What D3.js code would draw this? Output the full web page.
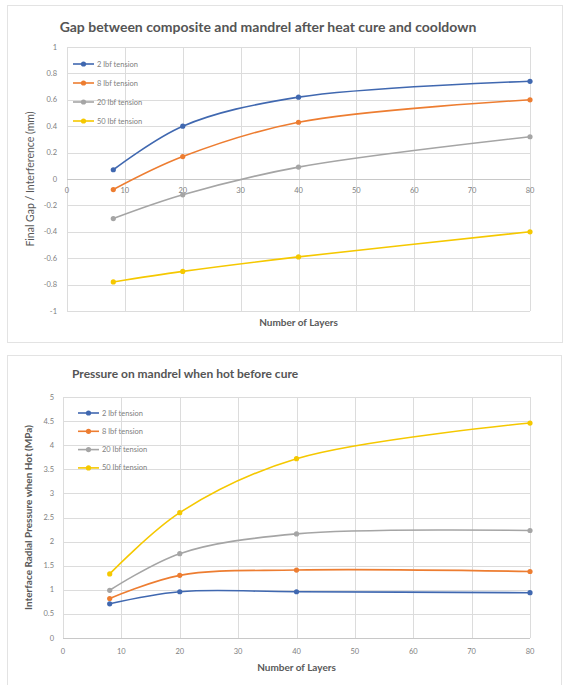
<!DOCTYPE html>
<html>
<head>
<meta charset="utf-8">
<script src="https://cdn.jsdelivr.net/npm/d3@7"></script>
<style>
  body { margin: 0; background: #fff; }
  text { font-family: Lato, "Liberation Sans", sans-serif; }
</style>
</head>
<body>
<div id="chart"></div>
<script>
// shared data
const layers = [8, 20, 40, 80];
const seriesNames = ['2 lbf tension', '8 lbf tension', '20 lbf tension', '50 lbf tension'];
const seriesColors = ['#4068b0', '#ed7d31', '#a5a5a5', '#f5c800'];

// chart 1: final gap / interference (mm)
const gap2 = [0.07, 0.40, 0.62, 0.74];
const gap8 = [-0.08, 0.17, 0.43, 0.60];
const gap20 = [-0.30, -0.12, 0.09, 0.32];
const gap50 = [-0.78, -0.70, -0.59, -0.40];
const gapTicks = [1, 0.8, 0.6, 0.4, 0.2, 0, -0.2, -0.4, -0.6, -0.8, -1];

// chart 2: interface radial pressure when hot (MPa)
const press2 = [0.71, 0.96, 0.96, 0.94];
const press8 = [0.82, 1.30, 1.41, 1.38];
const press20 = [0.99, 1.75, 2.16, 2.23];
const press50 = [1.33, 2.60, 3.72, 4.46];
const pressTicks = [0, 0.5, 1, 1.5, 2, 2.5, 3, 3.5, 4, 4.5, 5];

const xTicks = [0, 10, 20, 30, 40, 50, 60, 70, 80];

const W = 567, H = 685;
const svg = d3.select('#chart').append('svg')
  .attr('width', W)
  .attr('height', H);

// panel frames
svg.append('rect').attr('x', 7.5).attr('y', 5.5).attr('width', 555).attr('height', 337)
  .attr('fill', '#fff').attr('stroke', '#e3e3e3');
svg.append('rect').attr('x', 7.5).attr('y', 355.5).attr('width', 554).attr('height', 334)
  .attr('fill', '#fff').attr('stroke', '#e3e3e3');

const drawChart = (opt) => {
  const g = svg.append('g');
  const x = d3.scaleLinear().domain([0, 80]).range([opt.left, opt.right]);
  const y = d3.scaleLinear().domain(opt.yDomain).range([opt.bottom, opt.top]);

  // gridlines
  g.append('g')
    .selectAll('line')
    .data(opt.yTicks)
    .join('line')
    .attr('x1', opt.left).attr('x2', opt.right)
    .attr('y1', d => Math.round(y(d)) + 0.5).attr('y2', d => Math.round(y(d)) + 0.5)
    .attr('stroke', '#dcdcdc');
  g.append('g')
    .selectAll('line')
    .data(xTicks)
    .join('line')
    .attr('x1', d => Math.round(x(d)) + 0.5).attr('x2', d => Math.round(x(d)) + 0.5)
    .attr('y1', opt.top).attr('y2', opt.bottom)
    .attr('stroke', '#dcdcdc');

  // horizontal axis line (at y = 0)
  g.append('line')
    .attr('x1', opt.left).attr('x2', opt.right)
    .attr('y1', Math.round(y(0)) + 0.5).attr('y2', Math.round(y(0)) + 0.5)
    .attr('stroke', '#c8c8c8');

  // y tick labels
  g.append('g')
    .selectAll('text')
    .data(opt.yTicks)
    .join('text')
    .attr('x', opt.yLabelX)
    .attr('y', d => y(d) + 2.5)
    .attr('text-anchor', 'end')
    .attr('font-size', 7.5)
    .attr('fill', '#808080')
    .text(d => d);

  // x tick labels
  g.append('g')
    .selectAll('text')
    .data(xTicks)
    .join('text')
    .attr('x', d => x(d))
    .attr('y', opt.xLabelY)
    .attr('text-anchor', 'middle')
    .attr('font-size', 7.5)
    .attr('fill', '#808080')
    .text(d => d);

  // lines + markers
  const line = d3.line()
    .x((d, i) => x(layers[i]))
    .y(d => y(d))
    .curve(d3.curveCatmullRom.alpha(0.5));

  opt.series.forEach((vals, s) => {
    g.append('path')
      .attr('d', line(vals))
      .attr('fill', 'none')
      .attr('stroke', seriesColors[s])
      .attr('stroke-width', 1.6);
    g.append('g')
      .selectAll('circle')
      .data(vals)
      .join('circle')
      .attr('cx', (d, i) => x(layers[i]))
      .attr('cy', d => y(d))
      .attr('r', 2.6)
      .attr('fill', seriesColors[s]);
  });

  // legend
  const leg = g.append('g');
  seriesNames.forEach((name, s) => {
    const ly = opt.legendY + s * opt.legendStep;
    leg.append('line')
      .attr('x1', opt.legendX).attr('x2', opt.legendX + 21)
      .attr('y1', ly).attr('y2', ly)
      .attr('stroke', seriesColors[s]).attr('stroke-width', 1.6);
    leg.append('circle')
      .attr('cx', opt.legendX + 10.5).attr('cy', ly).attr('r', 2.6)
      .attr('fill', seriesColors[s]);
    leg.append('text')
      .attr('x', opt.legendX + 24).attr('y', ly + 2.5)
      .attr('font-size', 7.5)
      .attr('fill', '#808080')
      .text(name);
  });

  // titles
  g.append('text')
    .attr('x', opt.titleX).attr('y', opt.titleY)
    .attr('text-anchor', opt.titleAnchor)
    .attr('font-size', opt.titleSize)
    .attr('font-weight', 'bold')
    .attr('fill', '#555')
    .text(opt.title);
  g.append('text')
    .attr('x', (opt.left + opt.right) / 2).attr('y', opt.xTitleY)
    .attr('text-anchor', 'middle')
    .attr('font-size', 10)
    .attr('font-weight', 'bold')
    .attr('fill', '#595959')
    .text('Number of Layers');
  g.append('text')
    .attr('transform', `translate(${opt.yTitleX}, ${(opt.top + opt.bottom) / 2}) rotate(-90)`)
    .attr('text-anchor', 'middle')
    .attr('font-size', opt.yTitleSize)
    .attr('font-weight', opt.yTitleWeight)
    .attr('fill', '#595959')
    .text(opt.yTitle);
};

drawChart({
  left: 67, right: 530, top: 47, bottom: 311,
  yDomain: [-1, 1], yTicks: gapTicks,
  yLabelX: 57, xLabelY: 193,
  series: [gap2, gap8, gap20, gap50],
  legendX: 73, legendY: 64, legendStep: 19,
  title: 'Gap between composite and mandrel after heat cure and cooldown',
  titleX: 268, titleY: 32, titleAnchor: 'middle', titleSize: 14,
  xTitleY: 326,
  yTitle: 'Final Gap / Interference (mm)', yTitleX: 34, yTitleSize: 10.5, yTitleWeight: 'normal'
});

drawChart({
  left: 63, right: 530, top: 397, bottom: 638,
  yDomain: [0, 5], yTicks: pressTicks,
  yLabelX: 54, xLabelY: 654,
  series: [press2, press8, press20, press50],
  legendX: 78, legendY: 413, legendStep: 18.3,
  title: 'Pressure on mandrel when hot before cure',
  titleX: 72, titleY: 378, titleAnchor: 'start', titleSize: 12,
  xTitleY: 671,
  yTitle: 'Interface Radial Pressure when Hot (MPa)', yTitleX: 32, yTitleSize: 10, yTitleWeight: 'bold'
});
</script>
</body>
</html>
